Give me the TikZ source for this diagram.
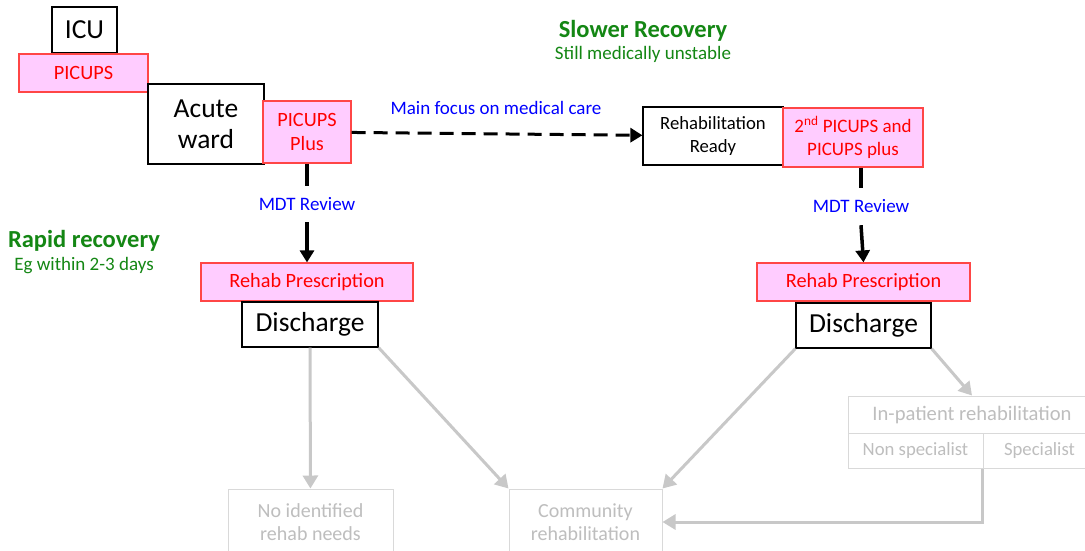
\documentclass[tikz,border=0pt]{standalone}
\usepackage{fontspec}
\setmainfont{Carlito}
\usetikzlibrary{arrows.meta}
\definecolor{pinkfill}{RGB}{255,204,255}
\definecolor{pinkline}{RGB}{255,70,70}
\definecolor{redtxt}{RGB}{255,0,0}
\definecolor{bluetxt}{RGB}{0,0,255}
\definecolor{greentxt}{RGB}{20,135,20}
\definecolor{gline}{RGB}{200,200,200}
\definecolor{gboxline}{RGB}{217,217,217}
\definecolor{gtext}{RGB}{190,190,190}
\tikzset{
  blkbox/.style={draw=black, line width=1.2pt, fill=white, inner sep=0pt, align=center, text=black},
  pnkbox/.style={draw=pinkline, line width=1.2pt, fill=pinkfill, inner sep=0pt, align=center, text=redtxt},
  gbox/.style={draw=gboxline, line width=1pt, inner sep=0pt, align=center, text=gtext},
  fbig/.style={font=\fontsize{27.5}{31}\selectfont},
  fmid/.style={font=\fontsize{20.3}{24}\selectfont},
  fsm/.style={font=\fontsize{19}{23}\selectfont},
  fgrey/.style={font=\fontsize{20}{23.5}\selectfont},
  fhead/.style={font=\fontsize{24.5}{28}\selectfont\bfseries},
  blkarrow/.style={line width=3.5pt, -{Triangle[length=12pt,width=14pt]}},
  blkline/.style={line width=3.5pt},
  garrow/.style={draw=gline, line width=3pt, -{Triangle[length=13pt,width=15pt]}, color=gline},
}
\begin{document}
\begin{tikzpicture}[x=1pt,y=-1pt]
\useasboundingbox[fill=white] (0,0) rectangle (1085,550);
% top-left chain
\node[blkbox, fbig, minimum width=65, minimum height=46] (icu) at (84.5,30) {ICU};
\node[pnkbox, fmid, minimum width=129, minimum height=38] (picups) at (83.5,73) {PICUPS};
\node[blkbox, fbig, minimum width=116, minimum height=80] (acute) at (206,124) {Acute\\ward};
\node[pnkbox, fmid, minimum width=88, minimum height=62] (plus) at (307,132) {PICUPS\\Plus};
% right top
\node[blkbox, font=\fontsize{18.7}{23}\selectfont, minimum width=140, minimum height=58] (ready) at (713,136) {Rehabilitation\\Ready};
\node[pnkbox, font=\fontsize{19}{23}\selectfont, minimum width=140, minimum height=59] (second) at (853,137.5) {2\textsuperscript{nd} PICUPS and\\PICUPS plus};
% labels
\node[text=greentxt, fhead] (slow) at (643,31) {Slower Recovery};
\node[text=greentxt, fsm] (slowsub) at (643,54) {Still medically unstable};
\node[text=greentxt, fhead] (rapid) at (84,241) {Rapid recovery};
\node[text=greentxt, fsm] (rapidsub) at (84,266) {Eg within 2-3 days};
\node[text=bluetxt, fsm] (focus) at (496,108) {Main focus on medical care};
% MDT labels
\node[text=bluetxt, fsm, inner sep=0pt, minimum height=36] (mdtL) at (307,204) {MDT Review};
\node[text=bluetxt, fsm, inner sep=0pt, minimum height=37] (mdtR) at (861,206.5) {MDT Review};
% prescriptions and discharges
\node[pnkbox, fmid, minimum width=212, minimum height=38] (rxL) at (307,282) {Rehab Prescription};
\node[blkbox, fbig, minimum width=136, minimum height=45] (dcL) at (310,324.5) {Discharge};
\node[pnkbox, fmid, minimum width=213, minimum height=38] (rxR) at (863.5,282) {Rehab Prescription};
\node[blkbox, fbig, minimum width=135, minimum height=45] (dcR) at (863.5,325.5) {Discharge};
% grey boxes
\node[gbox, fgrey, minimum width=165, minimum height=66] (noid) at (310.5,522) {No identified\\rehab needs};
\node[gbox, fgrey, minimum width=153, minimum height=66] (comm) at (585.5,522) {Community\\rehabilitation};
\node[gbox, font=\fontsize{20.6}{24}\selectfont, minimum width=248, minimum height=37] (inpat) at (972,414.5) {In-patient rehabilitation};
\node[gbox, font=\fontsize{18.7}{23}\selectfont, minimum width=135, minimum height=35] (nonspec) at (915.5,450.5) {Non specialist};
\node[gbox, font=\fontsize{18.7}{23}\selectfont, minimum width=113, minimum height=35] (spec) at (1039.5,450.5) {Specialist};
% black connectors
\draw[blkline] (plus.south) -- (mdtL.north);
\draw[blkarrow] (mdtL.south) -- (rxL.north);
\draw[blkline] (second.south -| mdtR.north) -- (mdtR.north);
\draw[blkarrow] (mdtR.south) -- (rxR.north);
\draw[line width=3pt, dash pattern=on 14pt off 8pt, -{Triangle[length=12pt,width=14pt]}] (plus) -- (ready);
% grey connectors
\draw[garrow] (dcL) -- (noid);
\draw[garrow] (dcL.south east) -- (comm.north west);
\draw[garrow] (dcR.south west) -- (comm.north east);
\draw[garrow] (dcR.south east) -- (inpat.north);
\draw[garrow] (spec.south west) |- (comm.east);
\end{tikzpicture}
\end{document}
